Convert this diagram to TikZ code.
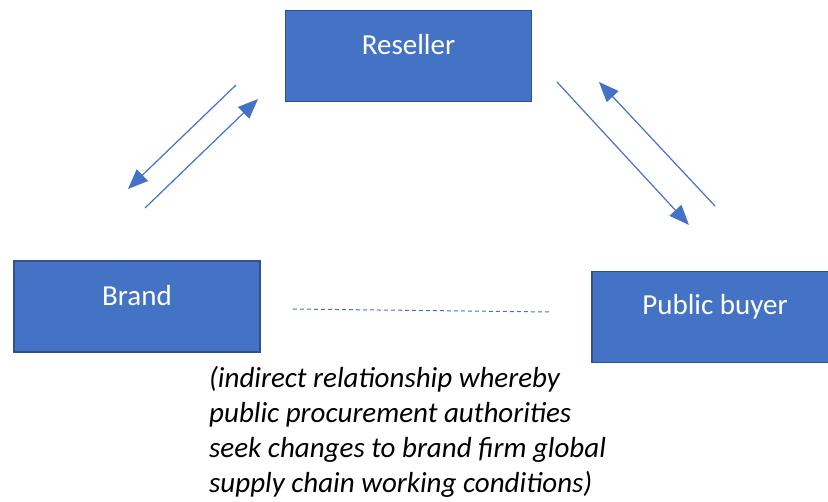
\documentclass[tikz,border=0pt]{standalone}
\usepackage{fontspec}
\setmainfont{Carlito}
\usetikzlibrary{arrows.meta}
\definecolor{boxfill}{HTML}{4472C4}
\definecolor{boxline}{HTML}{2F528F}
\begin{document}
\begin{tikzpicture}[x=1pt,y=-1pt,
  box/.style={draw=boxline,fill=boxfill,line width=1.5pt,minimum width=246pt,minimum height=91pt,inner sep=0pt,outer sep=0pt},
  boxtext/.style={text=white,font=\fontsize{29}{33}\selectfont,inner sep=0pt},
  flow/.style={draw=boxfill,line width=1.2pt,-{Triangle[length=20pt,width=16pt]}},
  link/.style={draw=boxfill,line width=1pt,dash pattern=on 4pt off 3pt}]
\useasboundingbox (0,0) rectangle (828,502);
\begin{scope}
\clip (0,0) rectangle (828,502);
\node[box] (res) at (408.5,56) {};
\node[box] (brand) at (137,306.5) {};
\node[box] (buyer) at (715,317) {};
\end{scope}
\node[boxtext] (restext) at ([yshift=11pt]res.center) {Reseller};
\node[boxtext] (brandtext) at ([yshift=11pt]brand.center) {Brand};
\node[boxtext] (buyertext) at ([yshift=10pt]buyer.center) {Public buyer};
\coordinate (a1) at (236,85); \coordinate (a2) at (128,189);
\coordinate (b1) at (145,208); \coordinate (b2) at (258,99);
\coordinate (c1) at (557,82); \coordinate (c2) at (689,225);
\coordinate (d1) at (715,206); \coordinate (d2) at (599,82);
\coordinate (e1) at (293,309); \coordinate (e2) at (551,312);
\draw[flow] (a1) -- (a2);
\draw[flow] (b1) -- (b2);
\draw[flow] (c1) -- (c2);
\draw[flow] (d1) -- (d2);
\draw[link] (e1) -- (e2);
\node[anchor=north west,align=left,inner sep=0pt,font=\itshape\fontsize{29}{35}\selectfont] (note) at (209,366)
{(indirect relationship whereby\\public procurement authorities\\seek changes to brand firm global\\supply chain working conditions)};
\end{tikzpicture}
\end{document}
